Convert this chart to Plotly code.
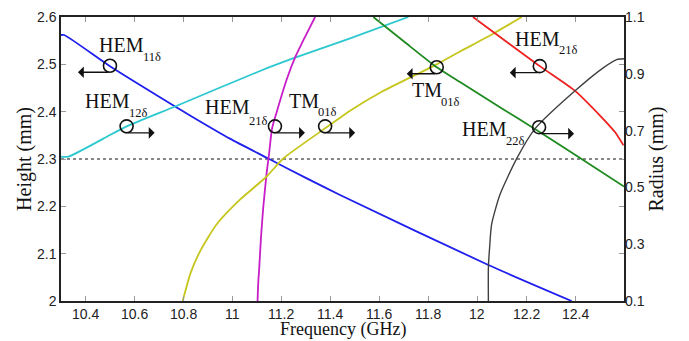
import plotly.graph_objects as go

# ---------------- data ----------------
# Left axis: Height (mm) vs Frequency (GHz)
hem11_f = [10.300, 10.313, 10.500, 10.766, 10.827, 10.990, 11.147, 11.304, 11.440, 12.046, 12.386]
hem11_h = [2.562, 2.562, 2.496, 2.411, 2.392, 2.343, 2.301, 2.259, 2.224, 2.076, 2.000]

hem12_f = [10.300, 10.330, 10.473, 10.568, 10.766, 11.113, 11.256, 11.481, 11.719]
hem12_h = [2.305, 2.305, 2.343, 2.369, 2.411, 2.486, 2.514, 2.555, 2.600]

hem21a_f = [11.103, 11.106, 11.110, 11.117, 11.126, 11.140, 11.150, 11.162, 11.181, 11.222, 11.256, 11.297, 11.338]
hem21a_h = [2.000, 2.040, 2.071, 2.134, 2.196, 2.270, 2.311, 2.364, 2.399, 2.468, 2.514, 2.558, 2.600]

tm01a_f = [10.797, 10.830, 10.868, 10.936, 11.031, 11.140, 11.208, 11.385, 11.481, 11.603, 11.835, 11.930, 12.060, 12.182]
tm01a_h = [2.000, 2.060, 2.105, 2.162, 2.214, 2.263, 2.301, 2.367, 2.402, 2.440, 2.500, 2.527, 2.563, 2.600]

# Right axis: Radius (mm) vs Frequency (GHz)
tm01b_f = [11.576, 11.705, 11.835, 11.930, 12.093, 12.236, 12.400, 12.600]
tm01b_r = [1.100, 1.011, 0.923, 0.871, 0.782, 0.706, 0.615, 0.503]

hem21b_f = [11.983, 12.256, 12.400, 12.502, 12.563, 12.598]
hem21b_r = [1.100, 0.927, 0.840, 0.753, 0.695, 0.648]

hem22_f = [12.046, 12.046, 12.051, 12.059, 12.093, 12.162, 12.236, 12.400, 12.515, 12.570, 12.600]
hem22_r = [0.100, 0.218, 0.288, 0.369, 0.474, 0.602, 0.706, 0.840, 0.921, 0.950, 0.953]

# Reference height line
ref_h = 2.3
ref_f = [10.3, 12.6]

# Marked operating points (circles)
circ_left_f = [10.500, 10.568, 11.174, 11.379]
circ_left_h = [2.497, 2.369, 2.369, 2.369]
circ_right_f = [11.835, 12.256, 12.253]
circ_right_r = [0.923, 0.927, 0.712]

# Labels
label_main = ["HEM", "HEM", "HEM", "TM", "TM", "HEM", "HEM"]
label_sub = ["11δ", "12δ", "21δ", "01δ", "01δ", "21δ", "22δ"]
arrow_dir = [-1, 1, 1, 1, -1, -1, 1]

# tick labels
x_ticks = [10.4, 10.6, 10.8, 11.0, 11.2, 11.4, 11.6, 11.8, 12.0, 12.2, 12.4]
x_ticktext = ["10.4", "10.6", "10.8", "11", "11.2", "11.4", "11.6", "11.8", "12", "12.2", "12.4"]
y_ticks = [2.0, 2.1, 2.2, 2.3, 2.4, 2.5, 2.6]
y_ticktext = ["2", "2.1", "2.2", "2.3", "2.4", "2.5", "2.6"]
y2_ticks = [0.1, 0.3, 0.5, 0.7, 0.9, 1.1]
y2_ticktext = ["0.1", "0.3", "0.5", "0.7", "0.9", "1.1"]

# ---------------- styling ----------------
SERIF = "Liberation Serif, Times New Roman, serif"
SANS = "Liberation Sans, Arial, sans-serif"
LW = 1.8

fig = go.Figure()

def line(x, y, color, yaxis="y", width=LW, dash=None, shape="spline"):
    fig.add_trace(go.Scatter(x=x, y=y, mode="lines", yaxis=yaxis,
                             line=dict(color=color, width=width, dash=dash, shape=shape, smoothing=0.6),
                             showlegend=False, hoverinfo="skip"))

line(ref_f, [ref_h, ref_h], "#111111", width=1.1, dash="dot", shape="linear")
line(hem11_f, hem11_h, "#1f1fee")
line(hem12_f, hem12_h, "#2cc8cf")
line(hem21a_f, hem21a_h, "#c81ec8")
line(tm01a_f, tm01a_h, "#c6c61c")
line(tm01b_f, tm01b_r, "#1f8a1f", yaxis="y2")
line(hem21b_f, hem21b_r, "#ee1f1f", yaxis="y2")
line(hem22_f, hem22_r, "#404040", yaxis="y2", width=1.4)

marker = dict(symbol="circle-open", size=13, color="#111111", line=dict(width=1.6, color="#111111"))
fig.add_trace(go.Scatter(x=circ_left_f, y=circ_left_h, mode="markers", marker=marker,
                         showlegend=False, hoverinfo="skip"))
fig.add_trace(go.Scatter(x=circ_right_f, y=circ_right_r, mode="markers", marker=marker, yaxis="y2",
                         showlegend=False, hoverinfo="skip"))

# label offsets relative to circle centre (px): junction dx, main dy, sub dy
label_off = [(34, 20.9, 9.2), (3.6, 25.8, 13.8), (-24.7, 18.9, 5.7), (-5.7, 25.2, 14),
             (5.3, -23.1, -34.5), (20.3, 27, 16.2), (-32.3, -2, -13.9)]
arrow_len = [32, 28, 30, 30, 30, 30, 35]

circ_f = circ_left_f + circ_right_f
circ_y = circ_left_h + circ_right_r
circ_ref = ["y"] * len(circ_left_f) + ["y2"] * len(circ_right_f)

annotations = []
for i in range(len(circ_f)):
    dx, dym, dys = label_off[i]
    annotations.append(dict(x=circ_f[i], y=circ_y[i], xref="x", yref=circ_ref[i],
                            text=label_main[i], showarrow=False, xanchor="right", yanchor="middle",
                            xshift=dx + 1, yshift=dym, borderpad=0,
                            font=dict(family=SERIF, size=20, color="#111111")))
    annotations.append(dict(x=circ_f[i], y=circ_y[i], xref="x", yref=circ_ref[i],
                            text=label_sub[i], showarrow=False, xanchor="left", yanchor="middle",
                            xshift=dx - 2, yshift=dys, borderpad=0,
                            font=dict(family=SERIF, size=12.5, color="#111111")))
    d = arrow_dir[i]
    L = arrow_len[i]
    annotations.append(dict(x=circ_f[i], y=circ_y[i], xref="x", yref=circ_ref[i],
                            text="", showarrow=True, ax=-d * L, ay=0,
                            xshift=d * L, yshift=-6.5,
                            arrowhead=1, arrowsize=1.5, arrowwidth=1.3, arrowcolor="#111111",
                            standoff=0, startstandoff=0))

BOTTOM = 40
# x tick labels placed close to the axis line (as in the reference)
for v, t in zip(x_ticks, x_ticktext):
    annotations.append(dict(x=v, y=0, xref="x", yref="paper", text=t, showarrow=False,
                            xanchor="center", yanchor="top", yshift=-3.5, borderpad=0,
                            font=dict(family=SANS, size=14, color="#222222")))
# x-axis title, sitting on the bottom edge of the figure
annotations.append(dict(x=0.5, y=0, xref="paper", yref="paper", text="Frequency (GHz)",
                        showarrow=False, xanchor="center", yanchor="bottom", yshift=-(BOTTOM - 0.5),
                        borderpad=0, font=dict(family=SERIF, size=18, color="#111111")))

axis_common = dict(showgrid=False, zeroline=False, automargin=False,
                   tickfont=dict(family=SANS, size=14, color="#222222"))

fig.update_layout(
    width=689, height=341,
    margin=dict(l=61, r=65, t=17, b=BOTTOM),
    paper_bgcolor="white", plot_bgcolor="white",
    annotations=annotations,
    xaxis=dict(range=[10.3, 12.6], tickvals=x_ticks, showticklabels=False,
               ticks="inside", ticklen=5, tickcolor="#999999", tickwidth=1,
               showline=True, linecolor="#222222", linewidth=1.5, mirror="ticks",
               **axis_common),
    yaxis=dict(range=[2.0, 2.6], tickvals=y_ticks, ticktext=y_ticktext,
               ticks="inside", ticklen=5, tickcolor="#999999", tickwidth=1,
               showline=True, linecolor="#222222", linewidth=1.5, mirror="ticks",
               title=dict(text="Height (mm)", standoff=0,
                          font=dict(family=SERIF, size=20, color="#111111")),
               **axis_common),
    yaxis2=dict(range=[0.1, 1.1], tickvals=y2_ticks, ticktext=y2_ticktext,
                overlaying="y", side="right", ticks="", showline=False,
                title=dict(text="Radius (mm)", standoff=4,
                           font=dict(family=SERIF, size=20, color="#111111")),
                **axis_common),
)

fig.write_html("out.html")
